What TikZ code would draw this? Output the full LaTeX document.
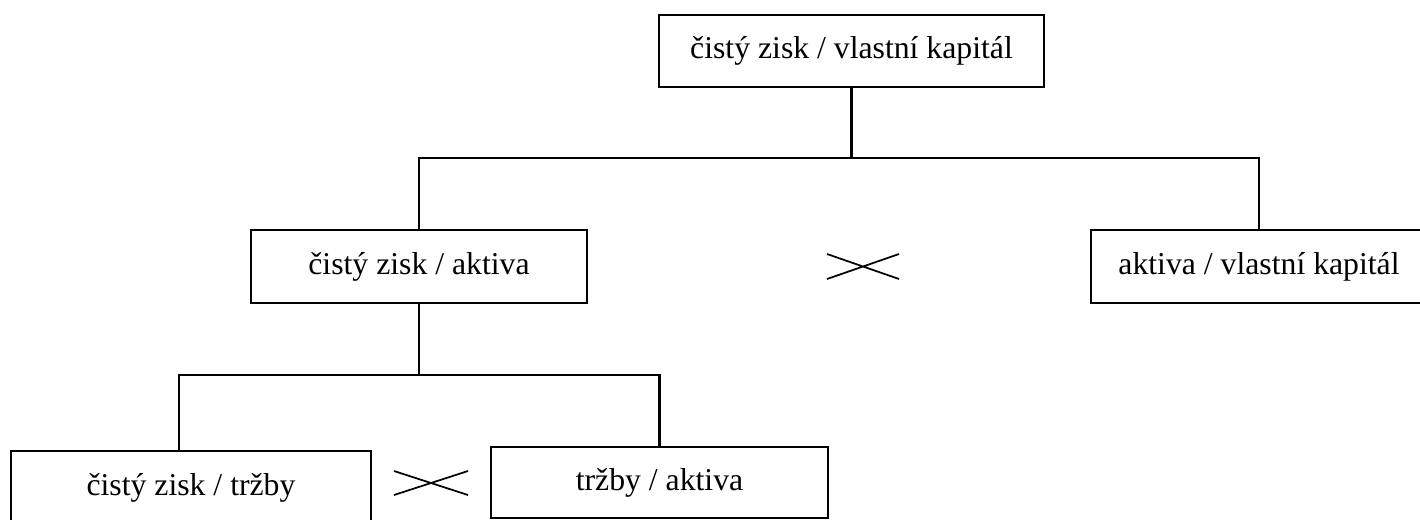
\documentclass[tikz,border=0pt]{standalone}
\usepackage{fontspec}
\setmainfont{Liberation Serif}
\begin{document}
\begin{tikzpicture}[x=0.75pt,y=-0.75pt,
  box/.style={draw,line width=1.7pt,rectangle,inner sep=0pt,align=center,font=\fontsize{23.8}{28}\selectfont},
  conn/.style={line width=1.7pt},
  cross/.style={line width=1.3pt}]
\useasboundingbox (0,0) rectangle (1420,519);
\clip (0,0) rectangle (1420,519);
\node[box,minimum width=385*0.75pt,minimum height=72*0.75pt] (top) at (851.5,51) {čistý zisk / vlastní kapitál};
\node[box,minimum width=336*0.75pt,minimum height=73*0.75pt] (ml) at (419,266.5) {čistý zisk / aktiva};
\node[box,minimum width=336*0.75pt,minimum height=73*0.75pt] (mr) at (1259,266.5) {aktiva / vlastní kapitál};
\node[box,minimum width=360*0.75pt,minimum height=74*0.75pt] (bl) at (191,488) {čistý zisk / tržby};
\node[box,minimum width=337*0.75pt,minimum height=71*0.75pt] (br) at (659.5,482.5) {tržby / aktiva};
\coordinate (j1) at (851.5,158);
\coordinate (j2) at (419,375);
\coordinate (c2) at (179,375);
\draw[conn] (top.south) -- (j1);
\draw[conn] (ml.north) |- (j1) -| (mr.north);
\draw[conn] (ml.south) -- (j2);
\draw[conn] (c2 |- bl.north) -- (c2) -- (j2) -| (br.north);
\coordinate (xa1) at (827,254); \coordinate (xa2) at (899,279);
\coordinate (xa3) at (827,279); \coordinate (xa4) at (899,254);
\draw[cross] (xa1) -- (xa2) (xa3) -- (xa4);
\coordinate (xb1) at (394,471); \coordinate (xb2) at (468,495);
\coordinate (xb3) at (394,495); \coordinate (xb4) at (468,471);
\draw[cross] (xb1) -- (xb2) (xb3) -- (xb4);
\end{tikzpicture}
\end{document}
